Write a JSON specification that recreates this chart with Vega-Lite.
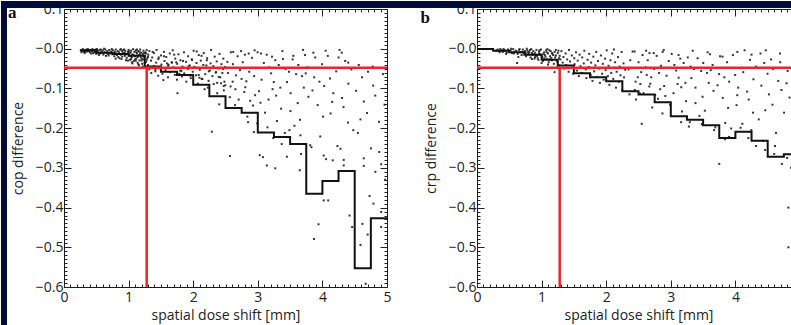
{
  "$schema": "https://vega.github.io/schema/vega-lite/v6.json",
  "background": "white",
  "padding": 0,
  "bounds": "flush",
  "spacing": 90,
  "config": {
    "view": {"stroke": "#1a1a1a", "strokeWidth": 1},
    "font": "Open Sans",
    "axis": {"domain": false, "grid": false, "tickColor": "#222", "tickWidth": 1, "labelFont": "Open Sans", "titleFont": "Open Sans", "labelFontSize": 14, "titleFontSize": 14, "labelColor": "#222", "titleColor": "#222", "titleFontWeight": "normal", "labelOverlap": false, "labelFlush": false}
  },
  "datasets": {
    "ptsA": [
      {"x":0.26,"y":-0.004},{"x":0.28,"y":-0.006},{"x":0.3,"y":-0.003},{"x":0.31,"y":-0.008},{"x":0.33,"y":-0.005},{"x":0.35,"y":-0.002},{"x":0.36,"y":-0.007},{"x":0.38,"y":-0.004},{"x":0.4,"y":-0.009},{"x":0.41,"y":-0.003},{"x":0.43,"y":-0.006},{"x":0.45,"y":-0.011},{"x":0.46,"y":-0.004},{"x":0.48,"y":-0.007},{"x":0.49,"y":-0.002},{"x":0.5,"y":-0.013},
      {"x":0.52,"y":-0.005},{"x":0.53,"y":-0.009},{"x":0.55,"y":-0.003},{"x":0.56,"y":-0.012},{"x":0.58,"y":-0.007},{"x":0.6,"y":-0.004},{"x":0.61,"y":-0.015},{"x":0.63,"y":-0.009},{"x":0.64,"y":-0.002},{"x":0.66,"y":-0.011},{"x":0.67,"y":-0.006},{"x":0.69,"y":-0.017},{"x":0.7,"y":-0.003},{"x":0.72,"y":-0.01},{"x":0.73,"y":-0.007},{"x":0.75,"y":-0.014},{"x":0.76,"y":-0.004},{"x":0.78,"y":-0.019},{"x":0.79,"y":-0.008},
      {"x":0.8,"y":-0.002},{"x":0.81,"y":-0.012},{"x":0.83,"y":-0.006},{"x":0.84,"y":-0.021},{"x":0.85,"y":-0.009},{"x":0.87,"y":-0.003},{"x":0.88,"y":-0.015},{"x":0.89,"y":-0.026},{"x":0.9,"y":-0.007},{"x":0.92,"y":-0.011},{"x":0.93,"y":-0.002},{"x":0.94,"y":-0.018},{"x":0.95,"y":-0.005},{"x":0.97,"y":-0.023},{"x":0.98,"y":-0.013},{"x":0.99,"y":-0.008},{"x":1.0,"y":-0.003},{"x":1.01,"y":-0.017},{"x":1.02,"y":-0.028},{"x":1.03,"y":-0.01},{"x":1.04,"y":-0.005},{"x":1.05,"y":-0.021},{"x":1.06,"y":-0.014},{"x":1.07,"y":-0.001},{"x":1.08,"y":-0.031},{"x":1.09,"y":-0.008},{"x":1.1,"y":-0.019},{"x":1.11,"y":-0.004},{"x":1.12,"y":-0.025},{"x":1.13,"y":-0.012},{"x":1.14,"y":-0.035},{"x":1.15,"y":-0.006},{"x":1.16,"y":-0.016},{"x":1.17,"y":-0.029},{"x":1.18,"y":-0.002},{"x":1.19,"y":-0.022},{"x":1.2,"y":-0.01},{"x":1.21,"y":-0.038},{"x":1.22,"y":-0.014},{"x":1.23,"y":-0.005},{"x":1.24,"y":-0.027},{"x":1.25,"y":-0.018},{"x":1.26,"y":-0.009},{"x":1.27,"y":-0.033},{"x":1.28,"y":-0.003},{"x":1.29,"y":-0.023},{"x":1.3,"y":-0.041},
      {"x":0.62,"y":0.0},{"x":0.68,"y":-0.013},{"x":0.74,"y":-0.001},{"x":0.82,"y":-0.016},{"x":0.86,"y":-0.024},{"x":0.91,"y":-0.004},{"x":0.96,"y":-0.029},{"x":1.0,"y":-0.012},{"x":1.05,"y":-0.034},{"x":1.1,"y":-0.027},{"x":1.15,"y":-0.039},{"x":1.2,"y":-0.03},{"x":1.25,"y":-0.036},{"x":1.12,"y":-0.009},{"x":1.03,"y":-0.019},{"x":0.94,"y":-0.01},{"x":0.88,"y":-0.001},{"x":1.18,"y":-0.013},{"x":1.23,"y":-0.02},{"x":1.27,"y":-0.012},
      {"x":0.27,"y":-0.009},{"x":0.29,"y":-0.001},{"x":0.32,"y":-0.011},{"x":0.34,"y":-0.007},{"x":0.37,"y":-0.001},{"x":0.39,"y":-0.006},{"x":0.42,"y":-0.012},{"x":0.44,"y":-0.001},{"x":0.47,"y":-0.009},{"x":0.51,"y":-0.001},{"x":0.54,"y":-0.016},{"x":0.57,"y":-0.002},{"x":0.59,"y":-0.01},{"x":0.65,"y":-0.018},{"x":0.71,"y":-0.012},{"x":0.77,"y":-0.011},{"x":0.8,"y":-0.025},{"x":0.86,"y":-0.013},{"x":0.9,"y":-0.02},{"x":0.95,"y":-0.015},{"x":1.01,"y":-0.007},{"x":1.04,"y":-0.026},{"x":1.08,"y":-0.016},{"x":1.11,"y":-0.03},{"x":1.14,"y":-0.021},{"x":1.17,"y":-0.008},{"x":1.21,"y":-0.026},{"x":1.24,"y":-0.011},{"x":1.28,"y":-0.028},{"x":1.3,"y":-0.02},{"x":1.06,"y":-0.037},{"x":1.16,"y":-0.042},{"x":1.22,"y":-0.045},{"x":0.99,"y":-0.03},{"x":1.13,"y":-0.002},
      {"x":1.304,"y":-0.015},{"x":1.318,"y":-0.052},{"x":1.322,"y":-0.006},{"x":1.347,"y":-0.03},{"x":1.351,"y":-0.061},{"x":1.366,"y":-0.022},{"x":1.389,"y":-0.044},{"x":1.392,"y":-0.011},{"x":1.414,"y":-0.057},{"x":1.427,"y":-0.035},{"x":1.433,"y":-0.003},{"x":1.458,"y":-0.068},{"x":1.461,"y":-0.026},{"x":1.479,"y":-0.049},{"x":1.502,"y":-0.017},{"x":1.508,"y":-0.04},{"x":1.523,"y":-0.063},{"x":1.547,"y":-0.008},{"x":1.556,"y":-0.031},{"x":1.571,"y":-0.054},{"x":1.583,"y":-0.021},{"x":1.609,"y":-0.072},{"x":1.612,"y":-0.043},{"x":1.638,"y":-0.012},{"x":1.641,"y":-0.059},{"x":1.667,"y":-0.034},{"x":1.683,"y":-0.004},{"x":1.694,"y":-0.047},{"x":1.716,"y":-0.066},{"x":1.722,"y":-0.025},{"x":1.749,"y":-0.078},{"x":1.753,"y":-0.038},{"x":1.771,"y":-0.014},{"x":1.798,"y":-0.055},{"x":1.802,"y":-0.029},{"x":1.826,"y":-0.07},{"x":1.834,"y":-0.045},{"x":1.857,"y":-0.009},{"x":1.861,"y":-0.062},{"x":1.889,"y":-0.033},{"x":1.893,"y":-0.083},{"x":1.917,"y":-0.051},{"x":1.921,"y":-0.019},{"x":1.946,"y":-0.042},{"x":1.757,"y":-0.112},{"x":1.962,"y":-0.074},{"x":1.978,"y":-0.027},{"x":1.993,"y":-0.058},{"x":2.007,"y":-0.005},{"x":2.021,"y":-0.046},{"x":2.044,"y":-0.067},{"x":2.051,"y":-0.036},{"x":2.073,"y":-0.088},{"x":2.086,"y":-0.016},{"x":2.102,"y":-0.053},{"x":2.117,"y":-0.03},{"x":2.131,"y":-0.076},{"x":2.156,"y":-0.041},{"x":2.163,"y":-0.011},{"x":2.187,"y":-0.064},{"x":2.194,"y":-0.048},{"x":2.216,"y":-0.024},{"x":2.238,"y":-0.081},{"x":2.241,"y":-0.057},{"x":2.269,"y":-0.037},{"x":2.277,"y":-0.003},{"x":2.298,"y":-0.069},{"x":2.312,"y":-0.044},{"x":2.333,"y":-0.02},{"x":2.349,"y":-0.06},
      {"x":2.364,"y":-0.032},{"x":2.371,"y":-0.086},{"x":2.392,"y":-0.05},{"x":2.408,"y":-0.013},{"x":2.419,"y":-0.072},{"x":2.437,"y":-0.039},{"x":2.451,"y":-0.061},{"x":2.466,"y":-0.025},{"x":2.472,"y":-0.094},{"x":2.493,"y":-0.046},{"x":2.054,"y":-0.007},{"x":1.876,"y":-0.066},{"x":1.673,"y":-0.035},{"x":1.538,"y":-0.079},{"x":1.415,"y":-0.053},{"x":2.129,"y":-0.018},{"x":2.204,"y":-0.042},{"x":2.318,"y":-0.089},{"x":1.982,"y":-0.028},{"x":1.786,"y":-0.063},{"x":2.176,"y":-0.102},{"x":1.593,"y":-0.037},{"x":2.395,"y":-0.071},{"x":1.706,"y":-0.015},{"x":2.258,"y":-0.055},{"x":2.483,"y":-0.083},{"x":1.842,"y":-0.031},{"x":2.288,"y":-0.209},{"x":2.085,"y":-0.066},{"x":1.931,"y":-0.044},{"x":2.227,"y":-0.098},{"x":1.467,"y":-0.022},{"x":2.354,"y":-0.059},{"x":2.143,"y":-0.076},{"x":1.618,"y":-0.04},{"x":2.372,"y":-0.112},{"x":1.373,"y":-0.008},{"x":2.462,"y":-0.051},{"x":2.403,"y":-0.14},{"x":1.959,"y":-0.068},{"x":1.738,"y":-0.034},{"x":2.431,"y":-0.087},{"x":2.012,"y":-0.047},{"x":1.548,"y":-0.019},{"x":2.097,"y":-0.073},{"x":2.474,"y":-0.105},{"x":1.817,"y":-0.056},{"x":2.211,"y":-0.029},{"x":2.497,"y":-0.092},
      {"x":2.537,"y":-0.061},{"x":2.912,"y":-0.023},{"x":3.284,"y":-0.118},{"x":2.648,"y":-0.142},{"x":3.771,"y":-0.047},{"x":4.126,"y":-0.163},{"x":2.583,"y":-0.009},{"x":3.452,"y":-0.084},{"x":4.613,"y":-0.072},{"x":2.806,"y":-0.097},{"x":3.093,"y":-0.036},{"x":3.967,"y":-0.221},{"x":2.724,"y":-0.054},{"x":4.352,"y":-0.031},{"x":3.618,"y":-0.137},{"x":2.991,"y":-0.188},{"x":4.818,"y":-0.118},{"x":3.206,"y":-0.062},{"x":2.859,"y":-0.012},{"x":4.027,"y":-0.094},{"x":3.539,"y":-0.027},{"x":2.611,"y":-0.083},{"x":4.479,"y":-0.205},{"x":3.361,"y":-0.151},{"x":2.943,"y":-0.069},{"x":4.214,"y":-0.057},{"x":3.712,"y":-0.098},{"x":2.566,"y":-0.122},{"x":3.138,"y":-0.015},{"x":4.691,"y":-0.162},{"x":3.873,"y":-0.072},{"x":2.767,"y":-0.034},{"x":3.418,"y":-0.212},{"x":4.305,"y":-0.124},{"x":3.019,"y":-0.107},{"x":2.687,"y":-0.019},{"x":4.563,"y":-0.041},{"x":3.652,"y":-0.179},{"x":2.882,"y":-0.131},{"x":3.994,"y":-0.039},{"x":3.247,"y":-0.084},{"x":4.402,"y":-0.088},{"x":2.749,"y":-0.076},{"x":3.811,"y":-0.243},{"x":3.166,"y":-0.128},{"x":4.937,"y":-0.064},{"x":2.615,"y":-0.039},{"x":3.508,"y":-0.112},{"x":4.083,"y":-0.018},{"x":2.971,"y":-0.049},{"x":3.324,"y":-0.041},{"x":4.752,"y":-0.251},{"x":3.593,"y":-0.064},{"x":2.838,"y":-0.171},{"x":4.169,"y":-0.112},{"x":3.058,"y":-0.078},{"x":2.529,"y":-0.033},{"x":3.927,"y":-0.142},{"x":4.266,"y":-0.003},{"x":3.389,"y":-0.026},{"x":2.791,"y":-0.109},{"x":4.641,"y":-0.133},{"x":3.731,"y":-0.016},{"x":3.112,"y":-0.161},{"x":4.448,"y":-0.052},{"x":2.664,"y":-0.067},{"x":3.846,"y":-0.105},{"x":3.483,"y":-0.058},{"x":2.925,"y":-0.143},{"x":4.057,"y":-0.278},{"x":3.229,"y":-0.102},{"x":4.876,"y":-0.184},{"x":2.578,"y":-0.095},{"x":3.684,"y":-0.069},{"x":4.327,"y":-0.147},{"x":2.997,"y":-0.009},{"x":3.567,"y":-0.194},{"x":4.522,"y":-0.106},{"x":2.704,"y":-0.128},{"x":3.431,"y":-0.051},{"x":4.118,"y":-0.075},{"x":3.296,"y":-0.182},{"x":2.867,"y":-0.058},{"x":3.783,"y":-0.121},{"x":4.706,"y":-0.058},{"x":3.041,"y":-0.136},{"x":4.233,"y":-0.245},{"x":3.627,"y":-0.041},{"x":2.653,"y":-0.102},{"x":3.954,"y":-0.083},{"x":4.589,"y":-0.178},{"x":3.179,"y":-0.047},{"x":2.823,"y":-0.082},{"x":3.348,"y":-0.098},{"x":4.011,"y":-0.171},{"x":3.889,"y":-0.022},{"x":4.786,"y":-0.093},{"x":2.958,"y":-0.117},{"x":3.506,"y":-0.157},{"x":4.397,"y":-0.186},{"x":3.742,"y":-0.062},{"x":2.741,"y":-0.006},{"x":4.962,"y":-0.141},{"x":3.271,"y":-0.029},{"x":4.152,"y":-0.134},
      {"x":2.57,"y":-0.27},{"x":3.03,"y":-0.268},{"x":3.08,"y":-0.273},{"x":3.14,"y":-0.294},{"x":3.27,"y":-0.301},{"x":3.45,"y":-0.272},{"x":3.65,"y":-0.306},{"x":3.67,"y":-0.265},{"x":4.02,"y":-0.269},{"x":4.16,"y":-0.281},{"x":4.33,"y":-0.28},{"x":4.33,"y":-0.294},{"x":4.64,"y":-0.276},{"x":4.64,"y":-0.295},{"x":4.91,"y":-0.291},{"x":4.02,"y":-0.382},{"x":4.09,"y":-0.382},{"x":4.73,"y":-0.371},{"x":4.79,"y":-0.39},{"x":4.91,"y":-0.411},{"x":4.42,"y":-0.42},{"x":3.94,"y":-0.442},{"x":4.46,"y":-0.449},{"x":4.62,"y":-0.441},{"x":4.7,"y":-0.468},{"x":3.87,"y":-0.479},{"x":4.59,"y":-0.494},{"x":4.67,"y":-0.592},{"x":4.91,"y":-0.449},{"x":2.94,"y":-0.21},{"x":3.24,"y":-0.225},{"x":3.37,"y":-0.24},{"x":3.83,"y":-0.248},{"x":4.28,"y":-0.252},{"x":4.88,"y":-0.26},{"x":4.97,"y":-0.33},{"x":4.82,"y":-0.31},{"x":3.15,"y":-0.198},{"x":3.49,"y":-0.205},{"x":2.85,"y":-0.185},{"x":3.66,"y":-0.218},{"x":4.55,"y":-0.212},
      {"x":2.62,"y":-0.008},{"x":2.8,"y":-0.015},{"x":2.95,"y":-0.004},{"x":3.05,"y":-0.012},{"x":3.22,"y":-0.02},{"x":3.38,"y":-0.006},{"x":3.55,"y":-0.018},{"x":3.7,"y":-0.003},{"x":3.86,"y":-0.01},{"x":4.05,"y":-0.005},{"x":4.25,"y":-0.022},{"x":4.4,"y":-0.035},{"x":4.3,"y":-0.01},{"x":4.78,"y":-0.045}
    ],
    "ptsB": [
      {"x":0.32,"y":-0.002},{"x":0.34,"y":-0.006},{"x":0.36,"y":-0.001},{"x":0.38,"y":-0.004},{"x":0.4,"y":-0.008},{"x":0.42,"y":-0.003},{"x":0.44,"y":-0.005},{"x":0.46,"y":-0.01},{"x":0.48,"y":-0.002},{"x":0.5,"y":-0.007},{"x":0.52,"y":-0.004},{"x":0.54,"y":-0.011},{"x":0.56,"y":-0.001},{"x":0.58,"y":-0.008},{"x":0.6,"y":-0.005},{"x":0.62,"y":-0.036},{"x":0.63,"y":-0.013},{"x":0.65,"y":-0.003},{"x":0.67,"y":-0.009},{"x":0.69,"y":-0.016},{"x":0.71,"y":-0.002},{"x":0.72,"y":-0.011},{"x":0.74,"y":-0.006},{"x":0.76,"y":-0.019},{"x":0.78,"y":-0.004},{"x":0.8,"y":-0.013},{"x":0.81,"y":-0.008},{"x":0.83,"y":-0.022},{"x":0.84,"y":-0.001},{"x":0.86,"y":-0.015},{"x":0.87,"y":-0.006},{"x":0.89,"y":-0.025},{"x":0.9,"y":-0.01},{"x":0.92,"y":-0.003},{"x":0.93,"y":-0.018},{"x":0.95,"y":-0.028},{"x":0.96,"y":-0.007},{"x":0.98,"y":-0.014},{"x":0.99,"y":-0.002},{"x":1.01,"y":-0.021},{"x":1.02,"y":-0.031},{"x":1.04,"y":-0.009},{"x":1.05,"y":-0.016},{"x":1.07,"y":-0.004},{"x":1.08,"y":-0.026},{"x":1.1,"y":-0.012},{"x":1.11,"y":-0.034},{"x":1.13,"y":-0.019},{"x":1.14,"y":-0.006},{"x":1.16,"y":-0.029},{"x":1.17,"y":-0.014},{"x":1.19,"y":-0.038},{"x":1.2,"y":-0.059},{"x":1.21,"y":-0.022},{"x":1.22,"y":-0.003},{"x":1.24,"y":-0.032},{"x":1.25,"y":-0.011},{"x":1.27,"y":-0.042},{"x":1.28,"y":-0.018},{"x":1.29,"y":-0.027},
      {"x":0.7,"y":-0.008},{"x":0.77,"y":0.0},{"x":0.85,"y":-0.011},{"x":0.91,"y":-0.017},{"x":0.97,"y":-0.004},{"x":1.03,"y":-0.013},{"x":1.09,"y":-0.001},{"x":1.15,"y":-0.023},{"x":1.2,"y":-0.008},{"x":1.26,"y":-0.005},{"x":0.94,"y":-0.024},{"x":1.06,"y":-0.02},{"x":1.12,"y":-0.027},{"x":1.18,"y":-0.016},{"x":0.88,"y":-0.014},
      {"x":0.3,"y":-0.005},{"x":0.35,"y":-0.009},{"x":0.41,"y":-0.001},{"x":0.45,"y":-0.013},{"x":0.49,"y":-0.006},{"x":0.53,"y":0.0},{"x":0.57,"y":-0.012},{"x":0.61,"y":-0.007},{"x":0.64,"y":-0.021},{"x":0.66,"y":-0.001},{"x":0.73,"y":-0.015},{"x":0.79,"y":-0.009},{"x":0.82,"y":-0.003},{"x":0.85,"y":-0.026},{"x":0.9,"y":-0.021},{"x":0.96,"y":-0.012},{"x":1.0,"y":-0.017},{"x":1.04,"y":-0.025},{"x":1.08,"y":-0.009},{"x":1.12,"y":-0.004},{"x":1.16,"y":-0.011},{"x":1.22,"y":-0.017},{"x":1.27,"y":-0.024},{"x":1.0,"y":-0.036},{"x":1.1,"y":-0.04},{"x":1.24,"y":-0.047},
      {"x":1.307,"y":-0.006},{"x":1.326,"y":-0.035},{"x":1.338,"y":-0.021},{"x":1.353,"y":-0.05},{"x":1.371,"y":-0.012},{"x":1.379,"y":-0.041},{"x":1.396,"y":-0.027},{"x":1.418,"y":-0.058},{"x":1.424,"y":-0.003},{"x":1.441,"y":-0.032},{"x":1.463,"y":-0.047},{"x":1.468,"y":-0.017},{"x":1.487,"y":-0.063},{"x":1.506,"y":-0.024},{"x":1.511,"y":-0.039},{"x":1.532,"y":-0.009},{"x":1.547,"y":-0.055},{"x":1.559,"y":-0.03},{"x":1.576,"y":-0.069},{"x":1.588,"y":-0.015},{"x":1.603,"y":-0.044},{"x":1.621,"y":-0.061},{"x":1.629,"y":-0.022},{"x":1.652,"y":-0.037},{"x":1.661,"y":-0.005},{"x":1.684,"y":-0.052},{"x":1.693,"y":-0.074},{"x":1.712,"y":-0.028},{"x":1.728,"y":-0.046},{"x":1.737,"y":-0.013},{"x":1.759,"y":-0.066},{"x":1.766,"y":-0.035},{"x":1.788,"y":-0.081},{"x":1.801,"y":-0.02},{"x":1.814,"y":-0.057},{"x":1.832,"y":-0.042},{"x":1.846,"y":-0.008},{"x":1.858,"y":-0.071},{"x":1.873,"y":-0.031},{"x":1.894,"y":-0.05},{"x":1.902,"y":-0.086},{"x":1.918,"y":-0.017},{"x":1.937,"y":-0.063},{"x":1.948,"y":-0.038},{"x":1.961,"y":-0.078},{"x":1.983,"y":-0.025},{"x":1.991,"y":-0.054},{"x":2.008,"y":-0.004},{"x":2.026,"y":-0.069},{"x":2.037,"y":-0.043},{"x":2.049,"y":-0.091},{"x":2.066,"y":-0.029},{"x":2.078,"y":-0.061},{"x":2.093,"y":-0.012},{"x":2.109,"y":-0.076},{"x":2.124,"y":-0.048},{"x":2.138,"y":-0.034},{"x":2.151,"y":-0.098},{"x":2.162,"y":-0.058},{"x":2.183,"y":-0.021},{"x":2.196,"y":-0.083},{"x":2.207,"y":-0.045},{"x":2.221,"y":-0.067},{"x":2.239,"y":-0.008},{"x":2.247,"y":-0.104},{"x":2.268,"y":-0.037},{"x":2.276,"y":-0.072},{"x":2.294,"y":-0.053},
      {"x":2.347,"y":-0.052},{"x":2.781,"y":-0.018},{"x":3.162,"y":-0.097},{"x":2.524,"y":-0.113},{"x":3.647,"y":-0.041},{"x":4.018,"y":-0.142},{"x":2.409,"y":-0.007},{"x":3.318,"y":-0.074},{"x":4.497,"y":-0.063},{"x":2.683,"y":-0.088},{"x":2.968,"y":-0.031},{"x":3.842,"y":-0.187},{"x":2.612,"y":-0.047},{"x":4.226,"y":-0.028},{"x":3.492,"y":-0.121},{"x":2.871,"y":-0.163},{"x":4.712,"y":-0.104},{"x":3.083,"y":-0.055},{"x":2.736,"y":-0.011},{"x":3.903,"y":-0.083},{"x":3.415,"y":-0.024},{"x":2.488,"y":-0.072},{"x":4.361,"y":-0.178},{"x":3.236,"y":-0.132},{"x":2.819,"y":-0.061},{"x":4.093,"y":-0.049},{"x":3.587,"y":-0.086},{"x":2.442,"y":-0.104},{"x":3.014,"y":-0.013},{"x":4.574,"y":-0.141},{"x":3.748,"y":-0.064},{"x":2.643,"y":-0.029},{"x":3.294,"y":-0.185},{"x":4.181,"y":-0.108},{"x":2.897,"y":-0.094},{"x":2.562,"y":-0.016},{"x":4.446,"y":-0.036},{"x":3.527,"y":-0.156},{"x":2.758,"y":-0.117},{"x":3.871,"y":-0.034},{"x":3.121,"y":-0.073},{"x":4.279,"y":-0.077},{"x":2.627,"y":-0.066},{"x":3.689,"y":-0.198},{"x":3.042,"y":-0.112},{"x":4.809,"y":-0.056},{"x":2.501,"y":-0.034},{"x":3.382,"y":-0.098},{"x":3.961,"y":-0.016},{"x":2.848,"y":-0.043},{"x":3.199,"y":-0.036},{"x":4.628,"y":-0.212},{"x":3.469,"y":-0.056},{"x":2.713,"y":-0.148},{"x":4.043,"y":-0.098},{"x":2.934,"y":-0.068},{"x":2.372,"y":-0.029},{"x":3.804,"y":-0.124},{"x":4.143,"y":-0.004},{"x":3.263,"y":-0.022},{"x":2.667,"y":-0.095},{"x":4.519,"y":-0.115},{"x":3.607,"y":-0.014},{"x":2.988,"y":-0.141},{"x":4.322,"y":-0.045},{"x":2.541,"y":-0.059},{"x":3.724,"y":-0.092},{"x":3.357,"y":-0.051},{"x":2.802,"y":-0.126},{"x":3.934,"y":-0.201},{"x":3.104,"y":-0.089},{"x":4.753,"y":-0.161},{"x":2.455,"y":-0.083},{"x":3.561,"y":-0.061},{"x":4.206,"y":-0.128},{"x":2.874,"y":-0.008},{"x":3.443,"y":-0.169},{"x":4.402,"y":-0.093},{"x":2.578,"y":-0.112},{"x":3.307,"y":-0.045},{"x":3.996,"y":-0.066},{"x":3.172,"y":-0.158},{"x":2.743,"y":-0.051},{"x":3.661,"y":-0.106},{"x":4.584,"y":-0.051},{"x":2.915,"y":-0.119},{"x":4.108,"y":-0.189},{"x":3.502,"y":-0.036},{"x":2.528,"y":-0.089},{"x":3.829,"y":-0.072},{"x":4.463,"y":-0.155},{"x":3.055,"y":-0.041},{"x":2.697,"y":-0.072},{"x":3.226,"y":-0.086},{"x":3.887,"y":-0.149},{"x":3.763,"y":-0.019},{"x":4.663,"y":-0.081},{"x":2.836,"y":-0.102},{"x":3.382,"y":-0.137},{"x":4.273,"y":-0.161},{"x":3.618,"y":-0.054},{"x":2.618,"y":-0.005},{"x":4.838,"y":-0.123},{"x":3.146,"y":-0.025},{"x":4.029,"y":-0.117},{"x":4.553,"y":-0.027},{"x":4.121,"y":-0.059},{"x":4.388,"y":-0.012},{"x":4.694,"y":-0.034},{"x":4.792,"y":-0.087},{"x":4.247,"y":-0.205},{"x":4.613,"y":-0.245},{"x":4.428,"y":-0.232},
      {"x":2.55,"y":-0.189},{"x":3.75,"y":-0.29},{"x":4.72,"y":-0.29},{"x":4.82,"y":-0.4},{"x":4.82,"y":-0.5},{"x":4.86,"y":-0.3},{"x":4.8,"y":-0.275},{"x":4.6,"y":-0.265},{"x":4.46,"y":-0.255},{"x":4.32,"y":-0.245},{"x":3.84,"y":-0.228},{"x":3.9,"y":-0.222},{"x":4.2,"y":-0.225},{"x":3.67,"y":-0.205},{"x":3.48,"y":-0.19},{"x":3.28,"y":-0.196},{"x":3.16,"y":-0.185},{"x":2.46,"y":-0.128},{"x":2.36,"y":-0.115},{"x":4.08,"y":-0.199},
      {"x":2.12,"y":-0.002},{"x":2.44,"y":-0.007},{"x":2.67,"y":-0.011},{"x":2.89,"y":-0.003},{"x":3.12,"y":-0.016},{"x":3.34,"y":-0.005},{"x":3.57,"y":-0.009},{"x":3.8,"y":-0.02},{"x":4.03,"y":-0.008},{"x":4.25,"y":-0.015},{"x":4.47,"y":-0.004},{"x":4.69,"y":-0.012}
    ],
    "stepA": [
      {"x":0.25,"y":-0.004},{"x":0.5,"y":-0.01},{"x":0.75,"y":-0.013},{"x":1.0,"y":-0.018},{"x":1.25,"y":-0.045},{"x":1.5,"y":-0.058},{"x":1.75,"y":-0.066},{"x":2.0,"y":-0.091},{"x":2.25,"y":-0.12},{"x":2.5,"y":-0.149},{"x":2.75,"y":-0.161},{"x":3.0,"y":-0.211},{"x":3.25,"y":-0.222},{"x":3.5,"y":-0.24},{"x":3.75,"y":-0.365},{"x":4.0,"y":-0.333},{"x":4.25,"y":-0.308},{"x":4.5,"y":-0.553},{"x":4.75,"y":-0.427},{"x":5.0,"y":-0.427}
    ],
    "stepB": [
      {"x":0.0,"y":-0.001},{"x":0.25,"y":-0.005},{"x":0.5,"y":-0.009},{"x":0.75,"y":-0.015},{"x":1.0,"y":-0.028},{"x":1.25,"y":-0.042},{"x":1.5,"y":-0.062},{"x":1.75,"y":-0.072},{"x":2.0,"y":-0.082},{"x":2.25,"y":-0.107},{"x":2.5,"y":-0.115},{"x":2.75,"y":-0.135},{"x":3.0,"y":-0.17},{"x":3.25,"y":-0.179},{"x":3.5,"y":-0.193},{"x":3.75,"y":-0.225},{"x":4.0,"y":-0.209},{"x":4.25,"y":-0.232},{"x":4.5,"y":-0.272},{"x":4.75,"y":-0.266},{"x":5.0,"y":-0.266}
    ]
  },
  "hconcat": [
    {
      "width": 323,
      "height": 278,
      "resolve": {"axis": {"x": "independent", "y": "independent"}},
      "layer": [
        {
          "data": {"name": "ptsA"},
          "mark": {"type": "square", "size": 4, "color": "#1e1e1e", "opacity": 0.9},
          "encoding": {
            "x": {"field": "x", "type": "quantitative", "scale": {"domain": [0, 5], "nice": false, "zero": false},
              "axis": {"orient": "bottom", "title": "spatial dose shift [mm]", "values": [0,0.1,0.2,0.3,0.4,0.5,0.6,0.7,0.8,0.9,1,1.1,1.2,1.3,1.4,1.5,1.6,1.7,1.8,1.9,2,2.1,2.2,2.3,2.4,2.5,2.6,2.7,2.8,2.9,3,3.1,3.2,3.3,3.4,3.5,3.6,3.7,3.8,3.9,4,4.1,4.2,4.3,4.4,4.5,4.6,4.7,4.8,4.9,5],
                "labelExpr": "abs(datum.value-round(datum.value))<0.001 ? format(datum.value,'d') : ''",
                "tickSize": {"condition": {"test": "abs(datum.value-round(datum.value))<0.001", "value": -7}, "value": -3},
                "labelPadding": 10, "titlePadding": 0}},
            "y": {"field": "y", "type": "quantitative", "scale": {"domain": [-0.6, 0.1], "nice": false, "zero": false},
              "axis": {"orient": "left", "title": "cop difference", "values": [-0.6,-0.59,-0.58,-0.57,-0.56,-0.55,-0.54,-0.53,-0.52,-0.51,-0.5,-0.49,-0.48,-0.47,-0.46,-0.45,-0.44,-0.43,-0.42,-0.41,-0.4,-0.39,-0.38,-0.37,-0.36,-0.35,-0.34,-0.33,-0.32,-0.31,-0.3,-0.29,-0.28,-0.27,-0.26,-0.25,-0.24,-0.23,-0.22,-0.21,-0.2,-0.19,-0.18,-0.17,-0.16,-0.15,-0.14,-0.13,-0.12,-0.11,-0.1,-0.09,-0.08,-0.07,-0.06,-0.05,-0.04,-0.03,-0.02,-0.01,0,0.01,0.02,0.03,0.04,0.05,0.06,0.07,0.08,0.09,0.1],
                "labelExpr": "abs(datum.value*10-round(datum.value*10))<0.001 ? (datum.value>0.05 ? '0.1' : '−' + format(abs(datum.value),'.1f')) : ''",
                "tickSize": {"condition": {"test": "abs(datum.value*10-round(datum.value*10))<0.001", "value": -7}, "value": -3},
                "labelPadding": 8, "titlePadding": 10}}
          }
        },
        {
          "data": {"name": "stepA"},
          "mark": {"type": "line", "interpolate": "step-after", "color": "#111", "strokeWidth": 2},
          "encoding": {
            "x": {"field": "x", "type": "quantitative", "scale": {"domain": [0, 5], "nice": false, "zero": false},
              "axis": {"orient": "top", "title": null, "labels": false, "values": [0,0.1,0.2,0.3,0.4,0.5,0.6,0.7,0.8,0.9,1,1.1,1.2,1.3,1.4,1.5,1.6,1.7,1.8,1.9,2,2.1,2.2,2.3,2.4,2.5,2.6,2.7,2.8,2.9,3,3.1,3.2,3.3,3.4,3.5,3.6,3.7,3.8,3.9,4,4.1,4.2,4.3,4.4,4.5,4.6,4.7,4.8,4.9,5],
                "tickSize": {"condition": {"test": "abs(datum.value-round(datum.value))<0.001", "value": -7}, "value": -3}}},
            "y": {"field": "y", "type": "quantitative", "scale": {"domain": [-0.6, 0.1], "nice": false, "zero": false},
              "axis": {"orient": "right", "title": null, "labels": false, "values": [-0.6,-0.59,-0.58,-0.57,-0.56,-0.55,-0.54,-0.53,-0.52,-0.51,-0.5,-0.49,-0.48,-0.47,-0.46,-0.45,-0.44,-0.43,-0.42,-0.41,-0.4,-0.39,-0.38,-0.37,-0.36,-0.35,-0.34,-0.33,-0.32,-0.31,-0.3,-0.29,-0.28,-0.27,-0.26,-0.25,-0.24,-0.23,-0.22,-0.21,-0.2,-0.19,-0.18,-0.17,-0.16,-0.15,-0.14,-0.13,-0.12,-0.11,-0.1,-0.09,-0.08,-0.07,-0.06,-0.05,-0.04,-0.03,-0.02,-0.01,0,0.01,0.02,0.03,0.04,0.05,0.06,0.07,0.08,0.09,0.1],
                "tickSize": {"condition": {"test": "abs(datum.value*10-round(datum.value*10))<0.001", "value": -7}, "value": -3}}}
          }
        },
        {
          "data": {"values": [{}]},
          "mark": {"type": "rule", "color": "#e8262b", "strokeWidth": 2.5},
          "encoding": {"y": {"datum": -0.048, "type": "quantitative", "scale": {"domain": [-0.6, 0.1], "nice": false, "zero": false}, "axis": null}}
        },
        {
          "data": {"values": [{}]},
          "mark": {"type": "rule", "color": "#e8262b", "strokeWidth": 2.5},
          "encoding": {
            "x": {"datum": 1.28, "type": "quantitative", "scale": {"domain": [0, 5], "nice": false, "zero": false}, "axis": null},
            "y": {"datum": -0.6, "type": "quantitative", "scale": {"domain": [-0.6, 0.1], "nice": false, "zero": false}, "axis": null},
            "y2": {"datum": -0.048}
          }
        },
        {
          "data": {"values": [{}]},
          "mark": {"type": "text", "font": "Liberation Serif", "fontWeight": "bold", "fontSize": 17, "color": "#111", "align": "center", "baseline": "middle"},
          "encoding": {
            "x": {"datum": -0.8, "type": "quantitative", "scale": {"domain": [0, 5], "nice": false, "zero": false}, "axis": null},
            "y": {"datum": 0.091, "type": "quantitative", "scale": {"domain": [-0.6, 0.1], "nice": false, "zero": false}, "axis": null},
            "text": {"value": "a"}
          }
        }
      ]
    },
    {
      "width": 315,
      "height": 278,
      "resolve": {"axis": {"x": "independent", "y": "independent"}},
      "layer": [
        {
          "data": {"name": "ptsB"},
          "mark": {"type": "square", "size": 4, "color": "#1e1e1e", "opacity": 0.9, "clip": true},
          "encoding": {
            "x": {"field": "x", "type": "quantitative", "scale": {"domain": [0, 4.876], "nice": false, "zero": false},
              "axis": {"orient": "bottom", "title": "spatial dose shift [mm]", "values": [0,0.1,0.2,0.3,0.4,0.5,0.6,0.7,0.8,0.9,1,1.1,1.2,1.3,1.4,1.5,1.6,1.7,1.8,1.9,2,2.1,2.2,2.3,2.4,2.5,2.6,2.7,2.8,2.9,3,3.1,3.2,3.3,3.4,3.5,3.6,3.7,3.8,3.9,4,4.1,4.2,4.3,4.4,4.5,4.6,4.7,4.8],
                "labelExpr": "abs(datum.value-round(datum.value))<0.001 ? format(datum.value,'d') : ''",
                "tickSize": {"condition": {"test": "abs(datum.value-round(datum.value))<0.001", "value": -7}, "value": -3},
                "labelPadding": 10, "titlePadding": 0, "titleX": 161.5}},
            "y": {"field": "y", "type": "quantitative", "scale": {"domain": [-0.6, 0.1], "nice": false, "zero": false},
              "axis": {"orient": "left", "title": "crp difference", "values": [-0.6,-0.59,-0.58,-0.57,-0.56,-0.55,-0.54,-0.53,-0.52,-0.51,-0.5,-0.49,-0.48,-0.47,-0.46,-0.45,-0.44,-0.43,-0.42,-0.41,-0.4,-0.39,-0.38,-0.37,-0.36,-0.35,-0.34,-0.33,-0.32,-0.31,-0.3,-0.29,-0.28,-0.27,-0.26,-0.25,-0.24,-0.23,-0.22,-0.21,-0.2,-0.19,-0.18,-0.17,-0.16,-0.15,-0.14,-0.13,-0.12,-0.11,-0.1,-0.09,-0.08,-0.07,-0.06,-0.05,-0.04,-0.03,-0.02,-0.01,0,0.01,0.02,0.03,0.04,0.05,0.06,0.07,0.08,0.09,0.1],
                "labelExpr": "abs(datum.value*10-round(datum.value*10))<0.001 ? (datum.value>0.05 ? '0.1' : '−' + format(abs(datum.value),'.1f')) : ''",
                "tickSize": {"condition": {"test": "abs(datum.value*10-round(datum.value*10))<0.001", "value": -7}, "value": -3},
                "labelPadding": 8, "titlePadding": 10}}
          }
        },
        {
          "data": {"name": "stepB"},
          "mark": {"type": "line", "interpolate": "step-after", "color": "#111", "strokeWidth": 2, "clip": true},
          "encoding": {
            "x": {"field": "x", "type": "quantitative", "scale": {"domain": [0, 4.876], "nice": false, "zero": false},
              "axis": {"orient": "top", "title": null, "labels": false, "values": [0,0.1,0.2,0.3,0.4,0.5,0.6,0.7,0.8,0.9,1,1.1,1.2,1.3,1.4,1.5,1.6,1.7,1.8,1.9,2,2.1,2.2,2.3,2.4,2.5,2.6,2.7,2.8,2.9,3,3.1,3.2,3.3,3.4,3.5,3.6,3.7,3.8,3.9,4,4.1,4.2,4.3,4.4,4.5,4.6,4.7,4.8],
                "tickSize": {"condition": {"test": "abs(datum.value-round(datum.value))<0.001", "value": -7}, "value": -3}}},
            "y": {"field": "y", "type": "quantitative", "scale": {"domain": [-0.6, 0.1], "nice": false, "zero": false}, "axis": null}
          }
        },
        {
          "data": {"values": [{}]},
          "mark": {"type": "rule", "color": "#e8262b", "strokeWidth": 2.5},
          "encoding": {"y": {"datum": -0.048, "type": "quantitative", "scale": {"domain": [-0.6, 0.1], "nice": false, "zero": false}, "axis": null}}
        },
        {
          "data": {"values": [{}]},
          "mark": {"type": "rule", "color": "#e8262b", "strokeWidth": 2.5},
          "encoding": {
            "x": {"datum": 1.28, "type": "quantitative", "scale": {"domain": [0, 4.876], "nice": false, "zero": false}, "axis": null},
            "y": {"datum": -0.6, "type": "quantitative", "scale": {"domain": [-0.6, 0.1], "nice": false, "zero": false}, "axis": null},
            "y2": {"datum": -0.048}
          }
        },
        {
          "data": {"values": [{}]},
          "mark": {"type": "text", "font": "Liberation Serif", "fontWeight": "bold", "fontSize": 17, "color": "#111", "align": "center", "baseline": "middle"},
          "encoding": {
            "x": {"datum": -0.8, "type": "quantitative", "scale": {"domain": [0, 4.876], "nice": false, "zero": false}, "axis": null},
            "y": {"datum": 0.078, "type": "quantitative", "scale": {"domain": [-0.6, 0.1], "nice": false, "zero": false}, "axis": null},
            "text": {"value": "b"}
          }
        },
        {
          "data": {"values": [{}]},
          "mark": {"type": "rect", "color": "#020a36", "clip": false},
          "encoding": {
            "x": {"datum": -7.3684, "type": "quantitative", "scale": {"domain": [0, 4.876], "nice": false, "zero": false}, "axis": null},
            "x2": {"datum": 4.876},
            "y": {"datum": 0.12014, "type": "quantitative", "scale": {"domain": [-0.6, 0.1], "nice": false, "zero": false}, "axis": null},
            "y2": {"datum": 0.10252}
          }
        },
        {
          "data": {"values": [{}]},
          "mark": {"type": "rect", "color": "#020a36", "clip": false},
          "encoding": {
            "x": {"datum": -7.3684, "type": "quantitative", "scale": {"domain": [0, 4.876], "nice": false, "zero": false}, "axis": null},
            "x2": {"datum": -7.2755},
            "y": {"datum": 0.12014, "type": "quantitative", "scale": {"domain": [-0.6, 0.1], "nice": false, "zero": false}, "axis": null},
            "y2": {"datum": -0.698}
          }
        }
      ]
    }
  ]
}
